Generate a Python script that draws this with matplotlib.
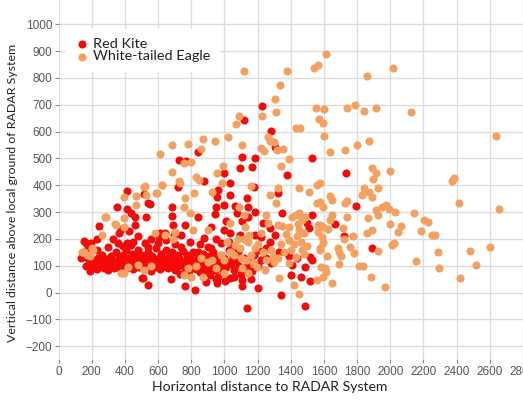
# Scatter of bird flight positions relative to a RADAR system.

import matplotlib
matplotlib.use("Agg")
import matplotlib.pyplot as plt

RED = "#F50A0A"
ORANGE = "#F3A060"

# Red Kite positions (horizontal distance, vertical distance)
kite_x = [
    1115, 1227, 1282, 1302, 1105, 1096, 1187, 1164, 1528, 1376, 1730, 1793, 1665, 1720, 1887,
    1528, 1346, 1322, 1276, 1233, 1223, 1183, 1144, 1134, 1180, 1498, 1512, 1439, 1410, 1400,
    1459, 1488, 1514, 1528, 1514, 1341, 1488, 1134, 1203, 1105,
    1033, 1036, 1062, 998, 963, 948, 944, 840, 879, 842, 771, 726, 723, 686, 684, 613, 540,
    550, 518, 528, 460, 434, 414, 414, 354, 244, 234, 194, 168, 154, 134, 188,
    957, 997, 1183, 1144, 1105, 1075, 1007, 918, 997, 1036, 1095, 1272, 1302, 879, 840, 918,
    1252, 1331, 1390, 1203, 1144, 1105, 1036, 957, 820,
    374, 364, 460, 424, 360, 234, 412, 434, 520, 540, 604, 644, 694, 741, 692, 761, 540, 504, 760,
    205, 215, 225, 232, 240, 248, 255, 262, 270, 276, 283, 290, 298, 305, 312, 318, 325, 332,
    340, 346, 352, 360, 366, 372, 380, 386, 392, 400, 406, 412, 420, 426, 432, 440, 446, 452,
    460, 466, 472, 480, 486, 492, 500, 506, 512, 520, 526, 532, 540, 546, 552, 560, 566, 572,
    580, 586, 592, 600, 606, 612, 620, 626, 632, 640, 646, 652, 660, 666, 672, 680, 686, 692,
    700, 706, 712, 720, 726, 732, 740, 746, 752, 760, 766, 772, 780, 786, 792, 800, 806, 812,
    820, 826, 832, 840, 846, 852, 860, 866, 872, 880, 886, 892, 900, 906, 912, 920, 926, 932,
    940, 946, 952, 960, 966, 972, 980, 986, 992, 1000, 1010, 1020, 1030, 1040, 1050, 1060,
    1070, 1080, 1090, 1100, 1115, 1130, 1150, 1165, 1180, 1200, 1220, 1250, 1280,
    165, 180, 190, 172, 300, 330, 390, 450, 480, 560, 600, 650, 700, 740, 790, 850, 900, 950,
    980, 1030, 1060, 680, 890, 950, 1005, 1060, 1160,
]
kite_y = [
    643, 696, 602, 544, 507, 463, 503, 469, 500, 438, 445, 324, 256, 212, 165,
    289, 296, 370, 242, 258, 209, 215, 320, 351, 395, 258, 240, 128, 103, 66,
    60, 97, 134, 122, 45, -9, -50, -58, 19, 25,
    407, 364, 323, 445, 383, 320, 292, 283, 414, 523, 490, 494, 392, 318, 286, 221, 333,
    330, 366, 283, 283, 296, 311, 379, 318, 250, 199, 184, 184, 194, 130, 82,
    358, 327, 302, 283, 265, 296, 265, 246, 233, 221, 215, 190, 215, 202, 153, 165,
    165, 153, 137, 159, 122, 47, 53, 35, 10,
    236, 221, 252, 230, 186, 159, 186, 178, 184, 171, 209, 221, 215, 215, 252, 252, 29, 53, 26,
    95, 120, 105, 88, 130, 112, 98, 140, 118, 92, 105, 125, 85, 110, 98, 135, 120, 90,
    105, 150, 115, 95, 128, 108, 82, 140, 100, 118, 160, 92, 130, 105, 115, 145, 88, 122,
    100, 135, 110, 160, 95, 120, 140, 105, 55, 128, 90, 112, 150, 100, 125, 82, 138, 108,
    95, 165, 118, 102, 130, 88, 145, 112, 98, 125, 160, 105, 90, 135, 115, 100, 150, 122,
    85, 110, 140, 98, 128, 70, 115, 102, 155, 90, 120, 140, 105, 80, 130, 112, 95, 150,
    120, 88, 108, 135, 100, 75, 118, 92, 145, 110, 125, 82, 100, 135, 65, 115, 95, 150,
    108, 85, 128, 60, 118, 98, 140, 112, 75, 130, 95, 115, 160, 105, 135, 85,
    120, 150, 100, 70, 130, 95, 110, 80, 140, 100, 120, 130, 110,
    100, 130, 115, 160, 170, 200, 175, 190, 210, 200, 185, 195, 180, 170, 190, 180, 170, 200,
    185, 190, 175, 50, 40, 50, 45, 60, 50,
]

# White-tailed Eagle positions
eagle_x = [
    1115, 1380, 1612, 1538, 1567, 2015, 1858, 1333, 1302, 1311, 1229, 1088, 1068, 1555, 1602,
    1573, 1597, 1738, 1789, 1842, 1911, 2123, 2638, 1431, 1455, 1600, 1264, 1274, 1223, 1240,
    1300, 1317, 1351, 1388, 1343, 1638, 1724, 1797, 1872, 993, 1020, 1107, 942, 873, 780,
    686, 610, 861, 757, 800, 682, 728, 621, 590, 515, 525, 466, 397, 279, 348, 200, 171,
    142, 830, 849, 958, 520, 625, 594, 731, 765, 757, 284, 466, 397, 338, 393, 260, 206,
    151, 191, 377, 397, 476, 515, 584, 757, 810, 790,
    816, 922, 987, 1160, 1321, 1449, 1508, 1557, 1272, 1311, 1085, 1115, 1252, 1410, 1449,
    1567, 1036, 1321, 1390, 1125, 898, 1449, 1478, 1390, 1223, 1144, 1016, 1066, 1095, 1183,
    1292, 1321, 1429, 1577, 869, 928, 997, 1105, 1144, 1331, 1390, 1419, 1449, 1557, 1597,
    1242,
    1891, 1911, 1895, 1999, 1577, 1842, 1828, 1872, 1887, 1923, 1636, 1651, 1577, 1561, 1724,
    1738, 1597, 1911, 1927, 1950, 1974, 1990, 2029, 1646, 1636, 1740, 1868, 1577, 1597, 1626,
    1567, 1587, 1714, 1999, 2064, 2048, 1858, 1887, 1777, 1718, 1597, 1577, 1685, 1691, 1758,
    1783, 2009, 2025, 1927, 1705, 1620, 1691, 1581, 1606, 1612, 1813, 1836, 1881, 1646, 1970,
    2145, 2206, 2225, 2186, 2251, 2269, 2285, 2296, 2157, 2369, 2387, 2412, 2418, 2481, 2516,
    2599, 2658,
    1036, 1060, 1080, 1100, 1130, 1160, 1175, 1195, 1120, 1150, 1200, 1230, 1250, 1280, 1300,
    1340, 1360, 1400, 1420, 1440, 1460, 1470, 1480, 1500, 1445, 1465, 1485, 1430, 1370, 1350,
    1260, 780, 800, 830, 860, 900, 950, 980, 1000, 640, 690, 700, 560, 420,
]
eagle_y = [
    826, 826, 889, 836, 848, 836, 807, 772, 722, 671, 657, 659, 627, 689, 684,
    647, 631, 689, 699, 678, 689, 673, 584, 615, 615, 584, 581, 563, 538, 529,
    560, 532, 534, 497, 473, 525, 532, 550, 563, 470, 581, 550, 563, 572, 553,
    550, 515, 534, 484, 488, 451, 414, 401, 370, 395, 364, 360, 357, 281, 252, 165, 140,
    153, 432, 420, 445, 397, 402, 370, 410, 351, 320, 283, 327, 277, 256, 246, 215, 159,
    153, 137, 72, 72, 103, 84, 221, 66, 233, 296,
    370, 376, 407, 397, 389, 389, 376, 401, 364, 333, 320, 289, 289, 283, 296,
    252, 258, 252, 246, 246, 233, 233, 221, 196, 221, 190, 190, 178, 165, 165,
    134, 128, 134, 165, 60, 122, 72, 91, 72, 53, 109, 29, -5, 47, 60,
    84,
    463, 444, 422, 454, 410, 391, 364, 376, 355, 389, 360, 345, 339, 333, 333,
    342, 320, 308, 289, 318, 327, 311, 302, 289, 271, 283, 277, 252, 243, 237,
    227, 208, 240, 256, 248, 227, 223, 233, 211, 199, 184, 159, 165, 153, 171,
    147, 178, 184, 156, 137, 137, 107, 94, 91, 75, 99, 99, 57, 37, 20,
    298, 271, 264, 230, 215, 215, 153, 93, 116, 417, 426, 333, 53, 155, 103,
    171, 310,
    150, 140, 200, 130, 120, 140, 110, 95, 200, 215, 180, 150, 120, 160, 115,
    180, 150, 160, 180, 210, 190, 160, 145, 175, 255, 270, 280, 290, 220, 250,
    260, 90, 60, 100, 130, 115, 90, 140, 120, 215, 200, 225, 100, 95,
]

x_ticks = list(range(0, 2801, 200))
y_ticks = list(range(-200, 1001, 100))


def main():
    fig = plt.figure(figsize=(5.23, 4.03), dpi=100)
    ax = fig.add_axes([0.112, 0.108, 0.888, 0.892])

    ax.scatter(kite_x, kite_y, s=34, color=RED, linewidths=0, label="Red Kite", zorder=3)
    ax.scatter(eagle_x, eagle_y, s=34, color=ORANGE, linewidths=0,
               label="White-tailed Eagle", zorder=3)

    ax.set_xlim(0, 2736)
    ax.set_ylim(-249, 1090)
    ax.set_xticks(x_ticks)
    ax.set_yticks(y_ticks)
    ax.grid(True, color="#DCDCDC", linewidth=1.0, zorder=0)
    ax.set_axisbelow(True)
    for side in ax.spines.values():
        side.set_visible(False)
    ax.tick_params(length=3, width=0.8, color="#888888", labelcolor="#555555",
                   labelsize=8.5, pad=1.5)
    for lab in ax.get_xticklabels() + ax.get_yticklabels():
        lab.set_family("Liberation Sans")

    ax.set_xlabel("Horizontal distance to RADAR System", family="Lato",
                  fontsize=10.1, color="#222222")
    ax.xaxis.set_label_coords(0.455, -0.06)
    ax.set_ylabel("Vertical distance above local ground of RADAR System", family="Lato",
                  fontsize=8.9, color="#222222")
    ax.yaxis.set_label_coords(-0.088, 0.463)

    leg = ax.legend(loc="upper left", bbox_to_anchor=(0.0, 0.94), frameon=True,
                    fancybox=False, framealpha=1, edgecolor="white", facecolor="white",
                    handletextpad=0.3, borderpad=0.6, labelspacing=0.05,
                    handlelength=1.0, markerscale=1.0, prop={"family": "Lato", "size": 10.4})
    for text in leg.get_texts():
        text.set_color("#222222")

    fig.savefig("out.png", dpi=100)


if __name__ == "__main__":
    main()
